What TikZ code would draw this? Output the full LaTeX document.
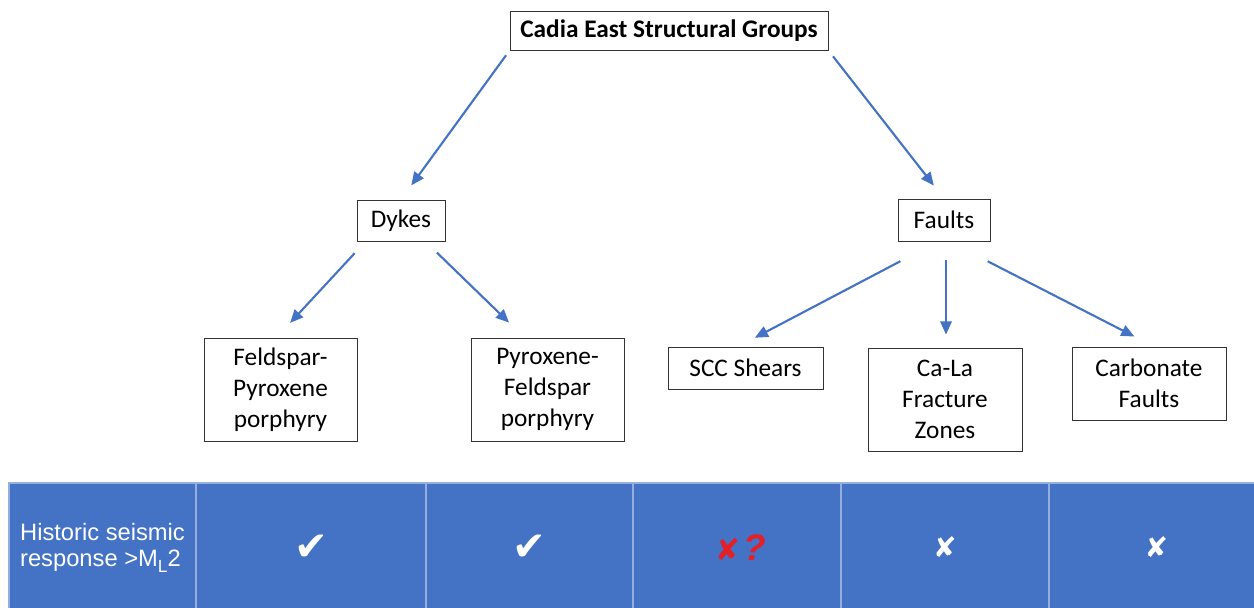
\documentclass[tikz,border=0pt]{standalone}
\usepackage{fontspec}
\setmainfont{Carlito}
\newfontfamily\tablefont{Liberation Sans}
\newfontfamily\symbolfont{DejaVu Sans}
\usetikzlibrary{arrows.meta,calc}
\definecolor{arrowblue}{RGB}{68,114,196}
\definecolor{cellblue}{RGB}{68,114,196}
\definecolor{celledge}{RGB}{150,175,222}
\definecolor{markred}{RGB}{230,30,38}

\begin{document}
\begin{tikzpicture}[x=0.02cm,y=-0.02cm,->,>={Triangle[length=7.5pt,width=6.5pt]},
            group node/.style={draw=black!80,line width=0.5pt,inner sep=0pt,align=center,
              font=\fontsize{14.4}{17.6}\selectfont},
            cell node/.style={fill=cellblue,draw=celledge,line width=1pt,inner sep=0pt,
              minimum height=2.58cm,text=white},
            link/.style={color=arrowblue,line width=1.2pt}]

        \useasboundingbox (0,0) rectangle (1254,608);

        % Define boxes
        \node[group node,font=\fontsize{14.4}{17.6}\selectfont\bfseries,
              minimum width=6.36cm,minimum height=0.78cm] (top) at (669,30.5) {Cadia East Structural Groups};
        \node[group node,minimum width=1.76cm,minimum height=0.82cm] (dykes) at (401,220.5) {Dykes};
        \node[group node,minimum width=1.84cm,minimum height=0.84cm] (faults) at (944,220) {Faults};
        \node[group node,minimum width=3.06cm,minimum height=2.06cm] (fpp) at (280.5,389.5) {Feldspar-\\Pyroxene\\porphyry};
        \node[group node,minimum width=3.06cm,minimum height=2.06cm] (pfp) at (547.5,389.5) {Pyroxene-\\Feldspar\\porphyry};
        \node[group node,minimum width=3.1cm,minimum height=0.84cm] (scc) at (745.5,368) {SCC Shears};
        \node[group node,minimum width=3.08cm,minimum height=2.06cm] (cala) at (945,399.5) {Ca-La\\Fracture\\Zones};
        \node[group node,minimum width=3.08cm,minimum height=1.46cm] (carb) at (1149,383.5) {Carbonate\\Faults};

        % Draw arrows
        \path[link]
            (top.south west) edge[shorten <=0.12cm,shorten >=0.35cm] (dykes.north)
            (top.south east) edge[shorten <=0.15cm,shorten >=0.33cm] (faults.north)
            ($(dykes.south west)+(9,0)$) edge[shorten <=0.32cm,shorten >=0.4cm] ($(fpp.north)+(-4,0)$)
            ($(dykes.south east)+(-20,0)$) edge[shorten <=0.32cm,shorten >=0.43cm] ($(pfp.north)+(-23,0)$)
            ($(faults.south)+(-6,0)$) edge[shorten <=0.85cm,shorten >=0.38cm] ($(scc.north)+(-7.5,0)$)
            ($(faults.south)+(2,0)$) edge[shorten <=0.38cm,shorten >=0.26cm] ($(cala.north)+(1,0)$)
            ($(faults.south)+(5,0)$) edge[shorten <=0.87cm,shorten >=0.44cm] ($(carb.north)+(5,0)$);

        % Table row
        \node[cell node,minimum width=3.74cm,align=left,
              font=\tablefont\fontsize{13.5}{15}\selectfont] (c0) at (102.5,547.5)
              {Historic seismic\\response >M\raisebox{-0.45ex}{\fontsize{10}{10}\selectfont L}2};
        \node[cell node,minimum width=4.6cm,font=\symbolfont\fontsize{23}{23}\selectfont] (c1) at (311,547.5) {✔};
        \node[cell node,minimum width=4.14cm,font=\symbolfont\fontsize{23}{23}\selectfont] (c2) at (529.5,547.5) {✔};
        \node[cell node,minimum width=4.16cm,text=markred] (c3) at (737,547.5)
              {\hspace*{4pt}{\symbolfont\fontsize{17}{17}\selectfont ✘}\,{\tablefont\bfseries\itshape\fontsize{21}{21}\selectfont ?}};
        \node[cell node,minimum width=4.16cm,font=\symbolfont\fontsize{16}{16}\selectfont] (c4) at (945,547.5) {✘};
        \node[cell node,minimum width=4.3cm,font=\symbolfont\fontsize{16}{16}\selectfont] (c5) at (1156.5,547.5) {✘};

        \end{tikzpicture}
\end{document}
